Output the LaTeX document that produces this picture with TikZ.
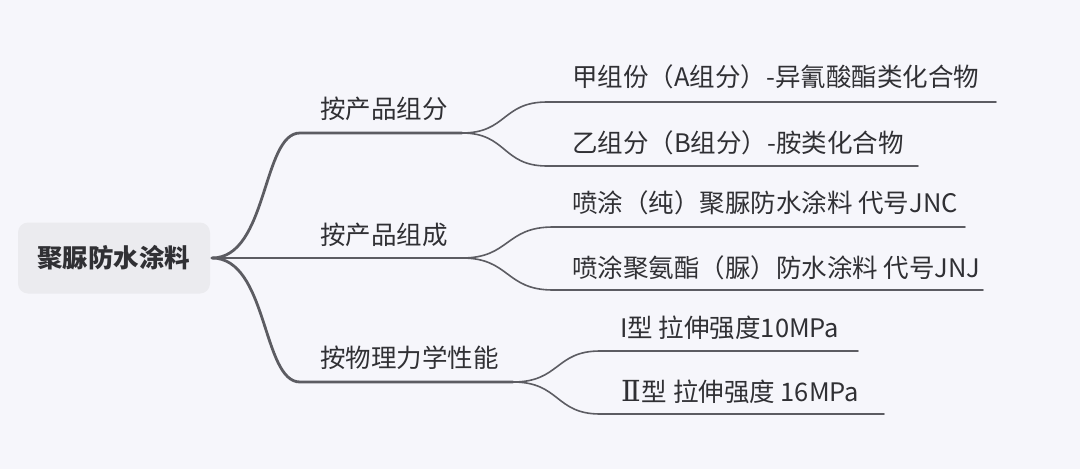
\documentclass[tikz,border=0pt]{standalone}
\usepackage{fontspec}
\setmainfont{Noto Sans CJK SC}
\newfontfamily\romanfont{DejaVu Serif}
\usetikzlibrary{calc}
\definecolor{bgc}{RGB}{246,246,251}
\definecolor{rootc}{RGB}{235,235,239}
\definecolor{linec}{RGB}{92,92,98}
\definecolor{txtc}{RGB}{48,48,52}
\tikzset{
  lbl/.style={anchor=west,inner sep=0pt,text=txtc,font=\fontsize{25.5}{30}\selectfont},
  mainline/.style={draw=linec,line width=2.8pt,line cap=round},
  subline/.style={draw=linec,line width=1.6pt,line cap=round},
}
\begin{document}
\begin{tikzpicture}[x=1pt,y=-1pt]
\fill[bgc] (0,0) rectangle (1080,469);
\useasboundingbox (0,0) rectangle (1080,469);
% root
\node[fill=rootc,rounded corners=10pt,minimum width=192pt,minimum height=71pt,inner sep=0pt,text=txtc,font=\fontsize{25.5}{30}\selectfont\bfseries] (root) at (114,258) {聚脲防水涂料};
\coordinate (r) at (212,258);
% branch labels
\node[lbl] (b1) at (320,109) {按产品组分};
\node[lbl] (b2) at (320,235) {按产品组成};
\node[lbl] (b3) at (320,358) {按物理力学性能};
\coordinate (b1s) at (300,133); \coordinate (b1e) at (462,133);
\coordinate (b2s) at (212,258); \coordinate (b2e) at (462,258);
\coordinate (b3s) at (300,382); \coordinate (b3e) at (513,382);
% leaves
\node[lbl] (l1) at (572,77) {甲组份（A组分）-异氰酸酯类化合物};
\node[lbl] (l2) at (572,143) {乙组分（B组分）-胺类化合物};
\node[lbl] (l3) at (572,203) {喷涂（纯）聚脲防水涂料 代号JNC};
\node[lbl] (l4) at (572,268) {喷涂聚氨酯（脲）防水涂料 代号JNJ};
\node[lbl] (l5) at (620,328) {I型 拉伸强度10MPa};
\node[lbl] (l6) at (621,392) {{\romanfont\fontsize{29}{30}\selectfont Ⅱ}\kern1pt 型 拉伸强度 16MPa};
\coordinate (l1s) at (547,102); \coordinate (l1e) at (996,102);
\coordinate (l2s) at (547,166); \coordinate (l2e) at (918,166);
\coordinate (l3s) at (553,227); \coordinate (l3e) at (965,227);
\coordinate (l4s) at (553,290); \coordinate (l4e) at (983,290);
\coordinate (l5s) at (600,351); \coordinate (l5e) at (858,351);
\coordinate (l6s) at (600,414); \coordinate (l6e) at (884,414);
% main connectors
\draw[mainline] (r) .. controls (268,258) and (262,133) .. (b1s) -- (b1e);
\draw[mainline] (r) -- (b2e);
\draw[mainline] (r) .. controls (268,258) and (262,382) .. (b3s) -- (b3e);
% sub connectors
\draw[subline] (b1e) .. controls (507,133) and (502,102) .. (l1s) -- (l1e);
\draw[subline] (b1e) .. controls (507,133) and (502,166) .. (l2s) -- (l2e);
\draw[subline] (b2e) .. controls (510,258) and (505,227) .. (l3s) -- (l3e);
\draw[subline] (b2e) .. controls (510,258) and (505,290) .. (l4s) -- (l4e);
\draw[subline] (b3e) .. controls (560,382) and (555,351) .. (l5s) -- (l5e);
\draw[subline] (b3e) .. controls (560,382) and (555,414) .. (l6s) -- (l6e);
\end{tikzpicture}
\end{document}
